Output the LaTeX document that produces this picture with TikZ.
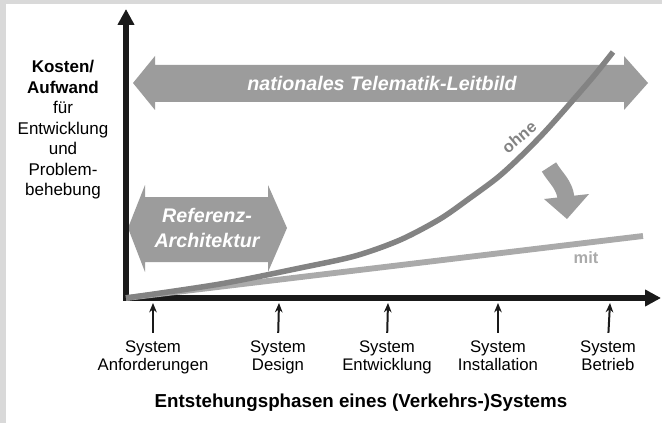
\documentclass[tikz,border=0pt]{standalone}
\usepackage{fontspec}
\setmainfont{Liberation Sans}
\usetikzlibrary{arrows.meta}

\definecolor{rahmengrau}{HTML}{D9D9D9}
\definecolor{achsenfarbe}{HTML}{1A1A1A}
\definecolor{flaechengrau}{HTML}{9C9C9C}
\definecolor{ohnegrau}{HTML}{838383}
\definecolor{mitgrau}{HTML}{AAAAAA}

\begin{document}
\begin{tikzpicture}[x=0.03cm,y=-0.03cm,
  achse/.style={line width=4.7pt,draw=achsenfarbe,line join=miter},
  marke/.style={line width=1.7pt,draw=achsenfarbe,-{Stealth[length=8pt,width=6.5pt]}},
  phase/.style={anchor=north,inner sep=0pt,align=center,font=\fontsize{14.3}{15.3}\selectfont},
  bandtext/.style={text=white,align=center,font=\fontsize{16.8}{22}\selectfont\bfseries\itshape},
  kurventext/.style={font=\fontsize{14}{16}\selectfont\bfseries}]

\useasboundingbox (0,0) rectangle (662,423);
\fill[rahmengrau] (0,0) rectangle (662,423);
\fill[white] (6,4) rectangle (662,423);

% breite Pfeile
\fill[flaechengrau] (133,83) -- (155,56) -- (155,65) -- (624,65) -- (624,56) -- (648,83)
  -- (624,110) -- (624,102) -- (155,102) -- (155,110) -- cycle;
\node[bandtext] (leitbild) at (382,83) {nationales Telematik-Leitbild};

\fill[flaechengrau] (128,228) -- (145,185) -- (145,197) -- (268,197) -- (268,185) -- (287,228)
  -- (268,272) -- (268,262) -- (145,262) -- (145,272) -- cycle;
\node[bandtext] (referenz) at (207,228) {Referenz-\\Architektur};

% Achsen
\coordinate (ursprung) at (126,298);
\coordinate (yspitze) at (126,9);
\coordinate (xspitze) at (661,298);
\draw[achse,{Triangle[length=13.6pt,width=13.6pt]}-{Triangle[length=13.6pt,width=13.6pt]}]
  (yspitze)--(ursprung)--(xspitze);

% Kurven
\coordinate (mitende) at (643,236);
\draw[line width=5pt,mitgrau] (ursprung)--(mitende);
\draw[line width=4.7pt,ohnegrau] plot[smooth,tension=0.5] coordinates
  {(126,298) (220,284) (300,268) (355,256) (400,240) (440,219) (470,198) (497,178)
   (517,160) (540,137) (560,115) (593,77) (613,52)};
\node[kurventext,text=ohnegrau,rotate=40] (ohne) at (519,137) {ohne};
\node[kurventext,text=mitgrau] (mit) at (586,258) {mit};

% Pfeil von ohne nach mit
\coordinate (bogenstart) at (549,167);
\coordinate (bogenende) at (566,198);
\draw[line width=14.5pt,flaechengrau] (bogenstart) to[out=-59,in=97] (bogenende);
\fill[flaechengrau] (544,199) -- (589,194) -- (567,219) -- cycle;

% Beschriftung y-Achse
\node[align=center,font=\fontsize{14.5}{17.5}\selectfont] (yachse) at (63,130)
  {\textbf{Kosten/}\\\textbf{Aufwand}\\für\\Entwicklung\\und\\Problem-\\behebung};

% Phasen
\coordinate (p1) at (153,303);
\coordinate (p2) at (279,303);
\coordinate (p3) at (388,303);
\coordinate (p4) at (498,303);
\coordinate (p5) at (610,303);

\node[phase] (anf) at (153,341) {System\\Anforderungen};
\node[phase] (des) at (278,341) {System\\Design};
\node[phase] (ent) at (387,341) {System\\Entwicklung};
\node[phase] (ins) at (498,341) {System\\Installation};
\node[phase] (bet) at (608,341) {System\\Betrieb};

\draw[marke,shorten <=7pt] (anf.north)--(p1);
\draw[marke,shorten <=7pt] (des.north)--(p2);
\draw[marke,shorten <=7pt] (ent.north)--(p3);
\draw[marke,shorten <=7pt] (ins.north)--(p4);
\draw[marke,shorten <=7pt] (bet.north)--(p5);

\node[font=\fontsize{16}{18}\selectfont\bfseries] (titel) at (361,403)
  {Entstehungsphasen eines (Verkehrs-)Systems};

\end{tikzpicture}
\end{document}
